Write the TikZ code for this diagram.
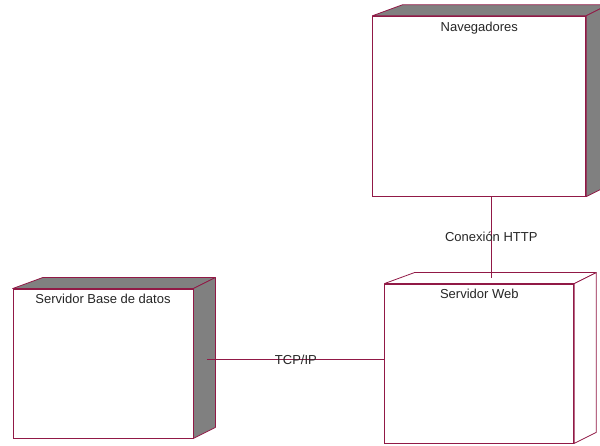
\documentclass[tikz,border=0pt]{standalone}
\usepackage{fontspec}
\setmainfont{Liberation Sans}
\usetikzlibrary{positioning, calc}

\definecolor{rosered}{RGB}{145,25,70}
\definecolor{rosegray}{RGB}{128,128,128}

% top and right faces of a 3D deployment node
\newcommand{\boxfaces}[2]{%
    \filldraw[face, fill=#2] (#1.north west) -- ++(30,11) -- ($(#1.north east)+(22,11)$) -- (#1.north east) -- cycle;
    \filldraw[face, fill=#2] (#1.north east) -- ++(22,11) -- ($(#1.south east)+(22,11)$) -- (#1.south east) -- cycle;
}

\begin{document}
\begin{tikzpicture}[
    x=1pt, y=1pt,
    box/.style={
        rectangle, draw=rosered, fill=white,
        inner sep=0pt, line width=0.8pt
    },
    face/.style={draw=rosered, line width=0.8pt, line join=round},
    nodetitle/.style={
        font=\fontsize{13}{15}\selectfont,
        text=black!85, inner sep=0pt
    },
    link/.style={draw=rosered, line width=0.8pt},
    linklabel/.style={
        font=\fontsize{13}{15}\selectfont,
        text=black!85, inner sep=1pt
    },
]
\useasboundingbox (0,0) rectangle (600,445);

% NODES
\node[box, minimum width=180pt, minimum height=149pt] (db) at (103,81.5) {};
\node[box, minimum width=189pt, minimum height=159pt, right=191pt of db] (web) {};
\node[box, minimum width=213pt, minimum height=180pt, above=87pt of web] (nav) {};

\boxfaces{db}{rosegray}
\boxfaces{web}{white}
\boxfaces{nav}{rosegray}

\node[nodetitle, below=6pt of nav.north] (nav-title) {Navegadores};
\node[nodetitle, below=5pt of db.north]  (db-title)  {Servidor Base de datos};
\node[nodetitle, below=5pt of web.north] (web-title) {Servidor Web};

% CONNECTIONS
\draw[link] ([xshift=12pt]nav.south) -- ([xshift=12pt, yshift=6pt]web.north)
    node[linklabel, midway] {Conexión HTTP};
\draw[link] ([xshift=14pt, yshift=4.5pt]db.east) -- ([yshift=4.5pt]web.west)
    node[linklabel, midway, yshift=-1pt] {TCP/IP};

\end{tikzpicture}
\end{document}
